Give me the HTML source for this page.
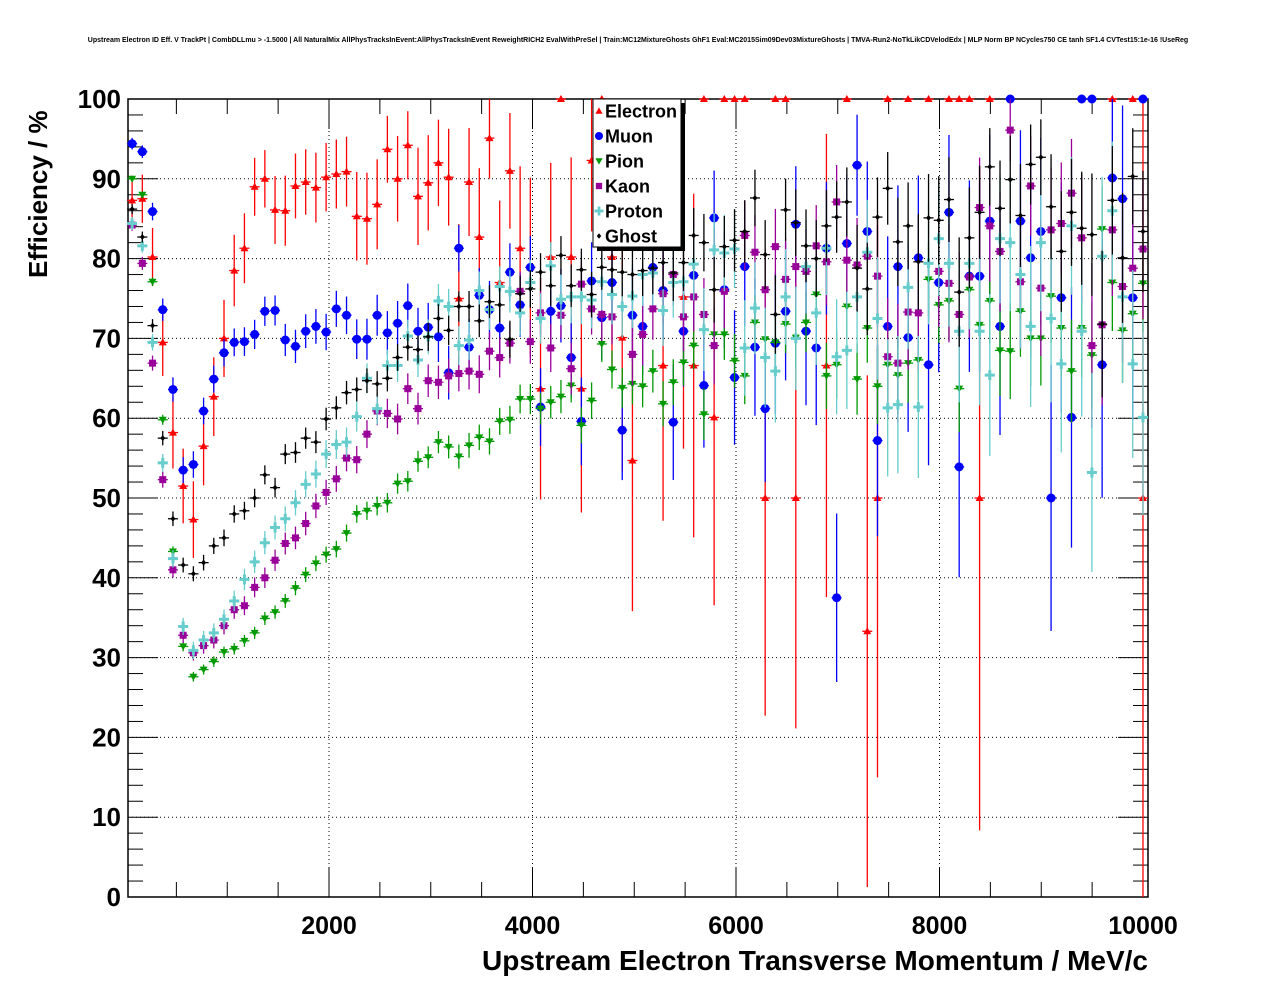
<!DOCTYPE html>
<html><head><meta charset="utf-8"><style>
html,body{margin:0;padding:0;background:#fff;}
svg{display:block;font-family:"Liberation Sans",sans-serif;}
</style></head><body>
<svg id="chart" width="1276" height="996" viewBox="0 0 1276 996" xmlns="http://www.w3.org/2000/svg">
<text x="638" y="42" text-anchor="middle" font-size="7" font-weight="bold">Upstream Electron ID Eff. V TrackPt | CombDLLmu &gt; -1.5000 | All NaturalMix AllPhysTracksInEvent:AllPhysTracksInEvent ReweightRICH2 EvalWithPreSel | Train:MC12MixtureGhosts GhF1 Eval:MC2015Sim09Dev03MixtureGhosts | TMVA-Run2-NoTkLikCDVelodEdx | MLP Norm BP NCycles750 CE tanh SF1.4 CVTest15:1e-16 !UseReg</text>
<g id="grid"></g>
<g id="axes"></g>
<g id="marks"></g>
<text x="1148" y="970" text-anchor="end" font-size="28" font-weight="bold">Upstream Electron Transverse Momentum / MeV/c</text>
<text transform="translate(47,278) rotate(-90)" font-size="26" font-weight="bold">Efficiency / %</text>
<g id="legend"></g>
</svg>
<script>
const seriesNames=["Electron","Muon","Pion","Kaon","Proton","Ghost"];
const xTicks=[2000,4000,6000,8000,10000];
const yTicks=[0,10,20,30,40,50,60,70,80,90,100];
const electron=[87.3,87.5,80.2,69.5,58.2,51.5,47.3,56.5,62.7,70,78.5,81.3,89,90,86.1,86,89.1,89.6,88.9,90.2,90.6,90.9,85.3,85,86.8,93.7,90,94.2,87.8,89.5,92,90.2,75,89.6,82.7,95.1,77,91,81.3,78.9,63.7,80.2,100,80.2,63.7,92.3,100,80.2,70.1,54.7,null,null,66.6,null,75.2,66.6,100,60.1,100,100,100,null,50,100,100,50,null,null,66.6,null,100,null,33.3,50,100,null,100,null,100,null,100,100,100,50,100,null,null,null,null,null,null,null,null,null,null,null,100,null,100,50];
const muon=[94.4,93.4,85.9,73.6,63.6,53.5,54.2,60.9,64.9,68.2,69.5,69.6,70.5,73.4,73.5,69.8,69.0,70.9,71.5,70.8,73.7,72.9,69.9,69.9,72.9,70.7,71.9,74.1,70.9,71.4,70.2,65.7,81.3,68.9,75.4,73.6,71.3,78.3,74.2,78.9,61.4,73.4,74.1,67.6,59.6,77.2,72.6,77.0,58.5,72.9,71.5,78.9,76.0,59.5,70.9,77.9,64.1,85.1,76.1,65.1,79.0,68.9,61.2,69.4,73.4,84.3,70.9,68.8,81.3,37.5,81.9,91.7,83.4,57.2,71.5,79.0,70.1,80.1,66.7,77.0,85.8,53.9,77.8,77.8,84.7,71.5,100,84.7,80.1,83.4,50.0,75.1,60.1,100,100,66.7,90.1,87.5,75.1,100];
const pion=[90.0,88.0,77.1,59.8,43.3,31.4,27.6,28.5,29.5,30.7,31.1,32.1,33.1,34.9,35.7,37.1,38.7,40.4,41.8,42.9,43.6,45.6,48.0,48.4,49.0,49.4,51.8,52.1,54.6,55.1,57.0,56.4,55.2,56.6,57.6,57.1,59.6,59.8,62.4,62.4,61.2,62.0,62.7,64.1,59.1,62.2,69.3,66.1,63.8,64.3,64.0,65.9,61.8,64.5,67.0,69.1,60.5,70.5,70.5,67.2,65.3,72.0,69.9,69.5,71.8,70.1,72.0,75.5,65.3,66.7,74.0,64.9,71.3,64.0,66.7,65.4,66.9,67.3,77.4,74.2,74.7,63.7,76.1,71.7,74.7,68.5,68.4,73.4,70.0,70.0,75.3,71.3,65.9,71.3,67.9,83.7,77.0,71.0,73.1,76.9];
const kaon=[84.2,79.4,66.9,52.3,41.0,32.8,30.6,31.5,32.2,34.0,36.0,36.5,38.8,40.0,42.2,44.3,45.0,46.8,49.0,50.7,52.4,55.0,54.8,58.0,60.9,60.6,59.9,63.7,61.2,64.7,64.5,65.3,65.6,65.9,65.5,68.4,67.6,69.4,75.9,69.6,73.2,68.8,72.9,66.2,76.8,73.7,73.0,72.7,null,68.0,70.5,73.7,75.6,78.0,72.7,75.2,73.0,69.1,75.9,null,82.9,80.8,76.1,81.5,77.4,79.0,78.4,81.6,79.6,87.1,79.8,79.2,80.3,77.8,67.7,66.9,73.3,73.2,null,78.4,76.9,73.0,77.7,86.4,84.1,80.9,96.1,77.1,89.1,76.3,83.6,84.4,88.2,82.6,69.1,71.7,83.6,76.5,78.8,81.2];
const proton=[84.4,81.6,69.5,54.4,42.4,33.9,30.9,32.2,33.1,34.8,37.1,39.8,42.0,44.4,46.3,47.4,49.4,51.7,53.0,55.5,56.7,57.0,60.2,65.0,61.2,66.6,66.6,70.3,67.3,70.2,74.7,74.0,69.1,69.8,76.0,73.6,76.5,75.9,73.2,77.0,72.5,79.1,74.9,75.2,75.2,74.8,77.1,75.5,74.0,75.3,78.0,78.2,73.5,77.0,77.1,79.3,71.1,81.1,80.7,81.2,68.8,73.8,67.6,65.9,75.2,70.0,79.0,73.2,81.3,67.7,68.5,75.2,80.8,72.5,61.3,61.7,76.4,61.4,79.4,82.5,79.4,70.9,79.4,70.9,65.4,82.5,82.0,78.0,71.5,82.0,72.5,66.8,84.1,70.9,53.2,80.3,86.0,75.2,66.8,60.1];
const ghost=[86.2,82.7,71.6,57.5,47.4,41.6,40.5,41.9,44.0,45.0,48.0,48.4,50.0,52.9,51.3,55.5,55.7,57.5,57.0,59.9,61.3,63.2,63.6,64.7,64.3,65.0,67.6,68.9,68.6,70.2,72.5,71.0,74.0,74.0,72.2,74.6,74.2,69.9,75.6,76.2,78.3,76.6,80.4,76.6,78.6,75.5,78.9,78.6,78.3,78.0,78.5,78.8,79.5,78.2,79.5,82.9,82.0,76.1,81.5,82.3,83.4,87.6,80.5,73.0,86.1,84.5,81.6,80.0,84.1,85.2,87.1,78.8,76.2,85.2,88.8,82.1,84.1,79.6,85.1,84.8,87.4,75.8,82.6,85.8,91.5,86.3,89.9,85.4,91.8,92.7,86.5,80.9,85.8,83.8,83.0,71.8,87.3,80.1,90.3,83.4];
const statWeight=[1,1,1,1,1,0.95,0.9,0.85,0.8,0.75,.7,.66,.62,.58,.55,.52,.49,.46,.43,.4,.38,.36,.34,.32,.3,.28,.26,.25,.24,.22,.21,.2,.18,.17,.16,.15,.14,.13,.12,.11,.1,.095,.09,.085,.08,.075,.07,.066,.062,.058,.055,.052,.049,.046,.043,.04,.038,.036,.034,.032,.03,.029,.028,.027,.026,.025,.024,.023,.022,.021,.02,.019,.018,.017,.016,.016,.015,.015,.014,.014,.013,.013,.012,.012,.011,.011,.01,.01,.01,.01,.009,.009,.009,.009,.008,.008,.008,.008,.008,.008];
const seriesEntries=[120,1000,6000,2500,2000,3000];
const binFirst=65, binWidth=100.35;

const NS="http://www.w3.org/2000/svg";
const X0=128,X1=1148,Y0=897,Y1=99;
function xs(v){return 125.5+v*0.10175;}
function ys(v){return Y0-(v/100)*(Y0-Y1);}
function mk(tag,attrs,parent){const e=document.createElementNS(NS,tag);for(const k in attrs)e.setAttribute(k,attrs[k]);parent.appendChild(e);return e;}
const grid=document.getElementById('grid'),axes=document.getElementById('axes'),marks=document.getElementById('marks'),legend=document.getElementById('legend');

xTicks.forEach(t=>{const l=mk('line',{x1:xs(t),x2:xs(t),y1:Y1,y2:Y0,stroke:'#000','stroke-width':1,'stroke-dasharray':'1,3'},grid);

});
yTicks.forEach(t=>{if(t===0||t===100)return;const l=mk('line',{x1:X0,x2:X1,y1:ys(t),y2:ys(t),stroke:'#000','stroke-width':1,'stroke-dasharray':'1,3'},grid);

});

const frame=mk('rect',{x:X0,y:Y1,width:X1-X0,height:Y0-Y1,fill:'none',stroke:'#000','stroke-width':1.5},axes);


for(let v=500;v<=10000;v+=500){const maj=v%2000===0;const L=maj?30:15;
 mk('line',{x1:xs(v),x2:xs(v),y1:Y0,y2:Y0-L,stroke:'#000'},axes);
 mk('line',{x1:xs(v),x2:xs(v),y1:Y1,y2:Y1+L,stroke:'#000'},axes);}
for(let v=0;v<=100;v+=2){const maj=v%10===0;const L=maj?30:15;
 mk('line',{x1:X0,x2:X0+L,y1:ys(v),y2:ys(v),stroke:'#000'},axes);
 mk('line',{x1:X1,x2:X1-L,y1:ys(v),y2:ys(v),stroke:'#000'},axes);}
xTicks.forEach(t=>{const tx=mk('text',{x:xs(t),y:934,'text-anchor':'middle','font-size':25,'font-weight':'bold'},axes);tx.textContent=t;

});
yTicks.forEach(t=>{const tx=mk('text',{x:121,y:ys(t)+9,'text-anchor':'end','font-size':26,'font-weight':'bold'},axes);tx.textContent=t;

});

const colors=["#ff0000","#0000ff","#009a00","#990099","#66cccc","#000000"];
const datasets=[electron,muon,pion,kaon,proton,ghost];
function marker(s,cx,cy,g,scale){scale=scale||1;const c=colors[s];let e;
 if(s===0)e=mk('polygon',{points:`${cx},${cy-4*scale} ${cx-4*scale},${cy+3*scale} ${cx+4*scale},${cy+3*scale}`,fill:c},g);
 else if(s===1)e=mk('circle',{cx:cx,cy:cy,r:4.5*scale,fill:c},g);
 else if(s===2)e=mk('polygon',{points:`${cx},${cy+4*scale} ${cx-4*scale},${cy-3*scale} ${cx+4*scale},${cy-3*scale}`,fill:c},g);
 else if(s===3)e=mk('rect',{x:cx-3.5*scale,y:cy-3.5*scale,width:7*scale,height:7*scale,fill:c},g);
 else if(s===4)e=mk('path',{d:`M${cx-5*scale},${cy-1.5*scale}h${3.5*scale}v${-3.5*scale}h${3*scale}v${3.5*scale}h${3.5*scale}v${3*scale}h${-3.5*scale}v${3.5*scale}h${-3*scale}v${-3.5*scale}h${-3.5*scale}z`,fill:c},g);
 else e=mk('polygon',{points:`${cx},${cy-3*scale} ${cx+2.5*scale},${cy} ${cx},${cy+3*scale} ${cx-2.5*scale},${cy}`,fill:c},g);
 return e;}

datasets.forEach((arr,s)=>{
 const g=mk('g',{},marks);
 
 
 arr.forEach((v,i)=>{if(v===null||v===undefined)return;
  const cx=xs(binFirst+binWidth*i),cy=ys(v);
  const p=v/100,N=statWeight[i]*seriesEntries[s];
  const err=100*Math.sqrt(Math.max(p*(1-p),0.0)/N);
  const lo=Math.max(0,v-err),hi=Math.min(100,v+err);
  const pg=mk('g',{},g);
  
  
  if(err>0.3)mk('line',{x1:cx,x2:cx,y1:ys(lo),y2:ys(hi),stroke:colors[s],'stroke-width':1.3},pg);
  mk('line',{x1:cx-5,x2:cx+5,y1:cy,y2:cy,stroke:colors[s],'stroke-width':1.3},pg);
  marker(s,cx,cy,pg);
 });
});

// legend
const lsh=mk('rect',{x:597,y:103,width:88,height:148,fill:'#000'},legend);


const lbox=mk('rect',{x:593,y:99,width:88,height:148,fill:'#fff',stroke:'#000','stroke-width':1},legend);


seriesNames.forEach((n,s)=>{const y=111+25*s;
 const eg=mk('g',{},legend);
 
 
 marker(s,599,y,eg,0.9);
 const t=mk('text',{x:605,y:y+6.5,'font-size':18,'font-weight':'bold'},eg);t.textContent=n;});
</script>
</body></html>
